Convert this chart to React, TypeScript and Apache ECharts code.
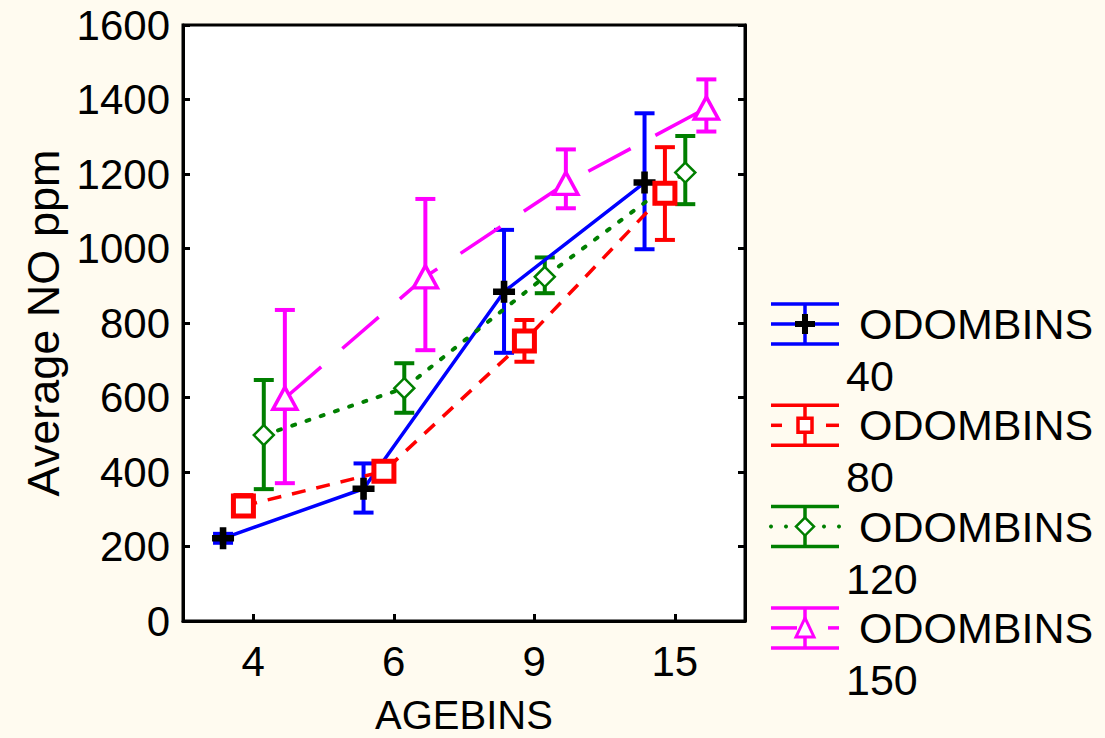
import React, { useEffect, useRef } from "react";
import * as echarts from "echarts";

const categories = ["4", "6", "9", "15"];
const seriesNames = ["ODOMBINS 40", "ODOMBINS 80", "ODOMBINS 120", "ODOMBINS 150"];

const odo40Mean = [222, 355, 884, 1177];
const odo40Low = [210, 291, 720, 998];
const odo40High = [234, 423, 1050, 1363];

const odo80Mean = [309, 402, 752, 1148];
const odo80Low = [288, 386, 696, 1023];
const odo80High = [338, 418, 808, 1272];

const odo120Mean = [499, 625, 924, 1204];
const odo120Low = [354, 559, 880, 1119];
const odo120High = [647, 692, 976, 1302];

const odo150Mean = [598, 924, 1175, 1377];
const odo150Low = [370, 727, 1108, 1314];
const odo150High = [835, 1133, 1266, 1454];

const yTicks = [0, 200, 400, 600, 800, 1000, 1200, 1400, 1600];

const FONT = "'Liberation Sans', Arial, Helvetica, sans-serif";
const xOffsets = [-0.215, -0.07, 0.075, 0.225];
const colors = ["#0000ff", "#ff0000", "#007f00", "#ff00ff"];
const dashes: any[] = ["solid", [14, 11], [3, 12], [48, 28]];
const PLUS = "path://M7,0H13V7H20V13H13V20H7V13H0V7H7Z";

export default function App() {
  const ref = useRef<HTMLDivElement>(null);
  useEffect(() => {
    if (!ref.current) return;
    const chart = echarts.init(ref.current, undefined, { renderer: "svg" });
    const means = [odo40Mean, odo80Mean, odo120Mean, odo150Mean];
    const lows = [odo40Low, odo80Low, odo120Low, odo150Low];
    const highs = [odo40High, odo80High, odo120High, odo150High];

    const symbols: any[] = [PLUS, "rect", "diamond", "triangle"];
    const symbolSizes: any[] = [22, 20, [20, 20], [24, 22]];
    const itemStyles: any[] = [
      { color: "#000", borderWidth: 0 },
      { color: "#fff", borderColor: colors[1], borderWidth: 5 },
      { color: "#fff", borderColor: colors[2], borderWidth: 2.5 },
      { color: "#fff", borderColor: colors[3], borderWidth: 3.5 },
    ];

    const series: any[] = [];
    means.forEach((m, s) => {
      const color = colors[s];
      series.push({
        name: seriesNames[s] + " err",
        type: "custom",
        xAxisIndex: 1,
        yAxisIndex: 0,
        z: 2,
        encode: { x: 0, y: [1, 2] },
        data: categories.map((_, i) => [i + xOffsets[s], lows[s][i], highs[s][i]]),
        renderItem: (params: any, api: any) => {
          const x = api.value(0);
          const lo = api.coord([x, api.value(1)]);
          const hi = api.coord([x, api.value(2)]);
          const w = 10;
          const st = { stroke: color, lineWidth: 4 };
          return {
            type: "group",
            children: [
              { type: "line", shape: { x1: lo[0], y1: lo[1], x2: hi[0], y2: hi[1] }, style: st },
              { type: "line", shape: { x1: hi[0] - w, y1: hi[1], x2: hi[0] + w, y2: hi[1] }, style: st },
              { type: "line", shape: { x1: lo[0] - w, y1: lo[1], x2: lo[0] + w, y2: lo[1] }, style: st },
            ],
          };
        },
      });
      series.push({
        name: seriesNames[s],
        type: "line",
        xAxisIndex: 1,
        yAxisIndex: 0,
        z: 3,
        data: categories.map((_, i) => [i + xOffsets[s], m[i]]),
        symbol: symbols[s],
        symbolSize: symbolSizes[s],
        itemStyle: itemStyles[s],
        lineStyle: { color, width: s === 2 ? 4 : 3.5, type: dashes[s], cap: s === 2 ? "round" : "butt" },
      });
    });

    // Legend drawn with graphic elements
    const graphics: any[] = [];
    const lx1 = 771, lx2 = 839, lcx = 805;
    for (let s = 0; s < 4; s++) {
      const by = 304 + s * 101.3;
      const c = colors[s];
      const st = { stroke: c, lineWidth: 3.5 };
      const my = by + 20;
      graphics.push({ type: "line", shape: { x1: lx1, y1: by, x2: lx2, y2: by }, style: st });
      graphics.push({ type: "line", shape: { x1: lx1, y1: by + 40, x2: lx2, y2: by + 40 }, style: st });
      graphics.push({ type: "line", shape: { x1: lcx, y1: by, x2: lcx, y2: by + 40 }, style: st });
      if (s === 0) {
        graphics.push({ type: "line", shape: { x1: lx1, y1: my, x2: lx2, y2: my }, style: st });
        graphics.push({ type: "rect", shape: { x: lcx - 10, y: my - 3, width: 20, height: 6 }, style: { fill: "#000" } });
        graphics.push({ type: "rect", shape: { x: lcx - 3, y: my - 10, width: 6, height: 20 }, style: { fill: "#000" } });
      } else if (s === 1) {
        graphics.push({ type: "line", shape: { x1: lx1, y1: my, x2: lx1 + 11, y2: my }, style: st });
        graphics.push({ type: "line", shape: { x1: lx2 - 13, y1: my, x2: lx2, y2: my }, style: st });
        graphics.push({ type: "rect", shape: { x: lcx - 7, y: my - 7, width: 14, height: 14 }, style: { fill: "#fff", stroke: c, lineWidth: 3.5 } });
      } else if (s === 2) {
        [lx1, lx1 + 15, lx2 - 15, lx2].forEach((dx) => {
          graphics.push({ type: "circle", shape: { cx: dx, cy: my, r: 2 }, style: { fill: c } });
        });
        graphics.push({ type: "polygon", shape: { points: [[lcx, my - 9], [lcx + 9, my], [lcx, my + 9], [lcx - 9, my]] }, style: { fill: "#fff", stroke: c, lineWidth: 2.5 } });
      } else {
        graphics.push({ type: "line", shape: { x1: lx1, y1: my, x2: lx1 + 26, y2: my }, style: st });
        graphics.push({ type: "line", shape: { x1: lx2 - 11, y1: my, x2: lx2, y2: my }, style: st });
        graphics.push({ type: "polygon", shape: { points: [[lcx, my - 10], [lcx + 9, my + 9], [lcx - 9, my + 9]] }, style: { fill: "#fff", stroke: c, lineWidth: 3 } });
      }
      const parts = seriesNames[s].split(" ");
      graphics.push({ type: "text", x: 859, y: my, style: { text: parts[0], font: `43px ${FONT}`, fill: "#000", verticalAlign: "middle", align: "left" } });
      graphics.push({ type: "text", x: 846, y: my + 52, style: { text: parts[1], font: `43px ${FONT}`, fill: "#000", verticalAlign: "middle", align: "left" } });
    }

    chart.setOption({
      animation: false,
      backgroundColor: "#fffbf0",
      grid: {
        left: 183,
        top: 25,
        width: 562,
        height: 596,
        outerBoundsMode: "none",
        containLabel: false,
        show: true,
        backgroundColor: "#ffffff",
        borderColor: "#000",
        borderWidth: 3,
      },
      xAxis: [
        {
          type: "category",
          data: categories,
          boundaryGap: true,
          name: "AGEBINS",
          nameLocation: "middle",
          nameGap: 74,
          nameTextStyle: { fontSize: 40, lineHeight: 40, color: "#000", fontFamily: FONT },
          axisLine: { show: true, onZero: false, lineStyle: { color: "#000", width: 3 } },
          axisTick: { show: true, inside: true, alignWithLabel: true, length: 7, lineStyle: { color: "#000", width: 3 } },
          axisLabel: { fontSize: 42, color: "#000", fontFamily: FONT, margin: 19 },
          splitLine: { show: false },
        },
        {
          type: "value",
          min: -0.5,
          max: 3.5,
          show: false,
          axisLine: { show: false, onZero: false },
          splitLine: { show: false },
        },
      ],
      yAxis: [
        {
          type: "value",
          min: 0,
          max: 1600,
          interval: 200,
          name: "Average NO ppm",
          nameLocation: "middle",
          nameGap: 117,
          nameTextStyle: { fontSize: 45, color: "#000", fontFamily: FONT },
          axisLine: { show: true, onZero: false, lineStyle: { color: "#000", width: 3 } },
          axisTick: { show: true, inside: true, length: 7, lineStyle: { color: "#000", width: 3 } },
          axisLabel: { fontSize: 42, color: "#000", fontFamily: FONT, margin: 13, formatter: (v: number) => (yTicks.includes(v) ? String(v) : "") },
          splitLine: { show: false },
        },
        {
          type: "value",
          min: 0,
          max: 1600,
          interval: 200,
          position: "right",
          axisLine: { show: true, onZero: false, lineStyle: { color: "#000", width: 3 } },
          axisTick: { show: true, inside: true, length: 7, lineStyle: { color: "#000", width: 3 } },
          axisLabel: { show: false },
          splitLine: { show: false },
        },
      ],
      series,
      graphic: graphics,
    });
    return () => chart.dispose();
  }, []);
  return <div ref={ref} style={{ position: "absolute", left: 0, top: 0, width: 1105, height: 738 }} />;
}
